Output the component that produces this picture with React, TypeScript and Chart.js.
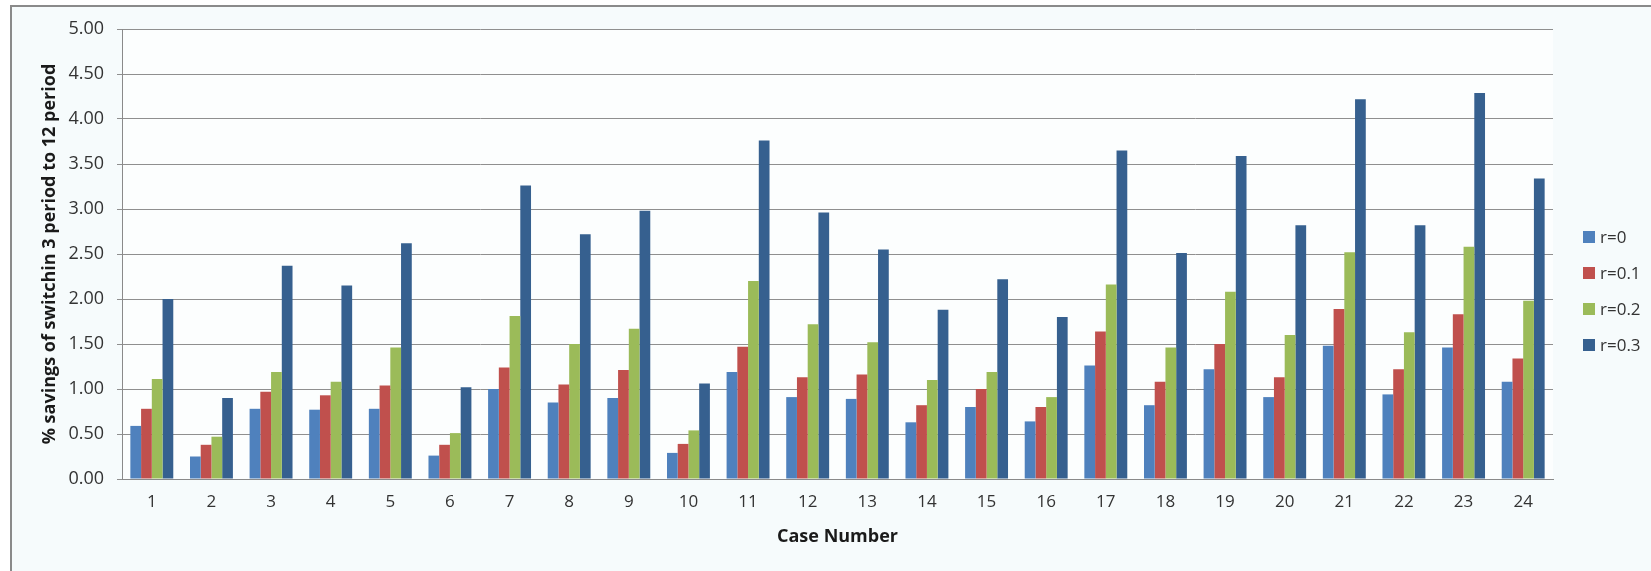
import React, { useEffect, useRef } from "react";
import { Chart, registerables } from "chart.js";

Chart.register(...registerables);

const caseNumbers = [
  "1", "2", "3", "4", "5", "6", "7", "8", "9", "10", "11", "12",
  "13", "14", "15", "16", "17", "18", "19", "20", "21", "22", "23", "24",
];

const seriesR0 = [0.59, 0.25, 0.78, 0.77, 0.78, 0.26, 1.0, 0.85, 0.9, 0.29, 1.19, 0.91, 0.89, 0.63, 0.8, 0.64, 1.26, 0.82, 1.22, 0.91, 1.48, 0.94, 1.46, 1.08];
const seriesR01 = [0.78, 0.38, 0.97, 0.93, 1.04, 0.38, 1.24, 1.05, 1.21, 0.39, 1.47, 1.13, 1.16, 0.82, 1.0, 0.8, 1.64, 1.08, 1.5, 1.13, 1.89, 1.22, 1.83, 1.34];
const seriesR02 = [1.11, 0.47, 1.19, 1.08, 1.46, 0.51, 1.81, 1.5, 1.67, 0.54, 2.2, 1.72, 1.52, 1.1, 1.19, 0.91, 2.16, 1.46, 2.08, 1.6, 2.52, 1.63, 2.58, 1.98];
const seriesR03 = [2.0, 0.9, 2.37, 2.15, 2.62, 1.02, 3.26, 2.72, 2.98, 1.06, 3.76, 2.96, 2.55, 1.88, 2.22, 1.8, 3.65, 2.51, 3.59, 2.82, 4.22, 2.82, 4.29, 3.34];

const seriesLabels = ["r=0", "r=0.1", "r=0.2", "r=0.3"];
const seriesColors = ["#4f81bd", "#c0504d", "#9bbb59", "#36608f"];

const FONT = "'Open Sans', 'DejaVu Sans', sans-serif";

// Page backdrop, chart frame and white plot area
const framePlugin = {
  id: "frame",
  beforeDraw(chart: any) {
    const { ctx, width, height, chartArea } = chart;
    ctx.save();
    ctx.fillStyle = "#ffffff";
    ctx.fillRect(0, 0, width, height);
    ctx.fillStyle = "#f6fbfc";
    ctx.fillRect(11, 6, width, height);
    ctx.strokeStyle = "#8a8a8a";
    ctx.lineWidth = 2;
    ctx.beginPath();
    ctx.moveTo(11, height + 2);
    ctx.lineTo(11, 6);
    ctx.lineTo(width + 2, 6);
    ctx.stroke();
    ctx.fillStyle = "#fcfefe";
    ctx.fillRect(chartArea.left, chartArea.top, chartArea.right - chartArea.left, chartArea.bottom - chartArea.top);
    ctx.restore();
  },
};

// Series key at the right of the plot
const keyPlugin = {
  id: "seriesKey",
  afterDraw(chart: any) {
    const { ctx, chartArea } = chart;
    const x = chartArea.right + 30;
    const startY = 237;
    const rowGap = 36;
    ctx.save();
    ctx.font = `17px ${FONT}`;
    ctx.textBaseline = "middle";
    ctx.textAlign = "left";
    chart.data.datasets.forEach((ds: any, i: number) => {
      const y = startY + i * rowGap;
      ctx.fillStyle = ds.backgroundColor;
      ctx.fillRect(x, y - 6, 12, 12);
      ctx.fillStyle = "#333333";
      ctx.fillText(ds.label, x + 17, y + 1);
    });
    ctx.restore();
  },
};

export default function App() {
  const canvasRef = useRef<HTMLCanvasElement | null>(null);

  useEffect(() => {
    document.body.style.margin = "0";
    const canvas = canvasRef.current;
    if (!canvas) return;
    const allSeries = [seriesR0, seriesR01, seriesR02, seriesR03];
    const chart = new Chart(canvas, {
      type: "bar",
      data: {
        labels: caseNumbers,
        datasets: allSeries.map((values, i) => ({
          label: seriesLabels[i],
          data: values,
          backgroundColor: seriesColors[i],
          borderWidth: 0,
          barPercentage: 1,
          categoryPercentage: 0.72,
        })),
      },
      options: {
        animation: false,
        responsive: true,
        maintainAspectRatio: false,
        layout: { padding: { left: 0, right: 98, top: 29, bottom: 0 } },
        plugins: {
          legend: { display: false },
          tooltip: { enabled: false },
        },
        scales: {
          x: {
            grid: { display: false, drawTicks: false },
            border: { display: true, color: "#8a8a8a", width: 1 },
            ticks: {
              color: "#333333",
              font: { family: FONT, size: 17 },
              padding: 13,
            },
            title: {
              display: true,
              text: "Case Number",
              color: "#1a1a1a",
              font: { family: FONT, size: 18, weight: "bold" },
              padding: { top: 0, bottom: 23 },
            },
            afterFit(scale: any) {
              scale.height = 92;
            },
          },
          y: {
            min: 0,
            max: 5,
            grid: {
              color: "#8f8f8f",
              lineWidth: 1,
              drawTicks: true,
              tickLength: 5,
            },
            border: { display: true, color: "#8a8a8a", width: 1 },
            ticks: {
              stepSize: 0.5,
              color: "#333333",
              font: { family: FONT, size: 18 },
              padding: 13,
              callback: (v: any) => Number(v).toFixed(2),
            },
            title: {
              display: true,
              text: "% savings of switchin 3 period to 12 period",
              color: "#1a1a1a",
              font: { family: FONT, size: 18, weight: "bold" },
              padding: { top: 39, bottom: 0 },
            },
            afterFit(scale: any) {
              scale.width = 122;
            },
          },
        },
      },
      plugins: [framePlugin, keyPlugin],
    });
    return () => chart.destroy();
  }, []);

  return (
    <div style={{ width: 1651, height: 571, position: "relative" }}>
      <canvas ref={canvasRef} />
    </div>
  );
}
